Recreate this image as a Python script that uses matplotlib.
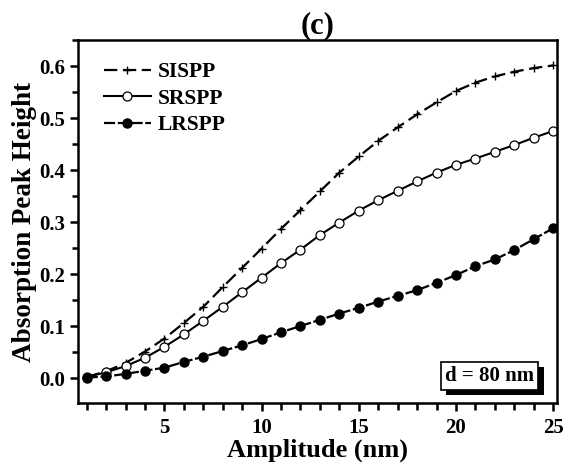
import numpy as np
import matplotlib.pyplot as plt
from matplotlib.ticker import MultipleLocator
import matplotlib.patheffects as pe

plt.rcParams['font.family'] = ['Liberation Serif', 'DejaVu Serif']
plt.rcParams['font.weight'] = 'bold'

# data
amplitude = np.arange(1, 26)
sispp = [0.002, 0.013, 0.029, 0.051, 0.076, 0.106, 0.137, 0.175, 0.212, 0.249,
         0.287, 0.323, 0.359, 0.395, 0.426, 0.456, 0.482, 0.507, 0.530, 0.552,
         0.568, 0.580, 0.589, 0.596, 0.601]
srspp = [0.002, 0.011, 0.023, 0.039, 0.060, 0.084, 0.110, 0.137, 0.165, 0.193,
         0.221, 0.247, 0.275, 0.299, 0.322, 0.342, 0.360, 0.378, 0.395, 0.410,
         0.422, 0.435, 0.448, 0.462, 0.475]
lrspp = [0.001, 0.003, 0.008, 0.014, 0.020, 0.031, 0.041, 0.052, 0.063, 0.075,
         0.088, 0.100, 0.112, 0.124, 0.135, 0.147, 0.158, 0.169, 0.183, 0.198,
         0.215, 0.228, 0.246, 0.267, 0.288]

fig = plt.figure(figsize=(5.64, 4.63), dpi=100)
ax = fig.add_axes([78 / 564, 60 / 463, 479 / 564, 363 / 463])

ax.plot(amplitude, sispp, color='k', ls=(0, (6, 2.5)), lw=1.6,
        marker='+', ms=6, mew=1.0, label='SISPP')
ax.plot(amplitude, srspp, color='k', ls='-', lw=1.5,
        marker='o', ms=6.5, mfc='white', mew=0.9, label='SRSPP')
ax.plot(amplitude, lrspp, color='k', ls=(0, (5, 1.2)), lw=1.6,
        marker='o', ms=6.5, mfc='k', label='LRSPP')

ax.set_xlim(0.55, 25.2)
ax.set_ylim(-0.048, 0.65)
ax.xaxis.set_major_locator(MultipleLocator(5))
ax.xaxis.set_minor_locator(MultipleLocator(1))
ax.yaxis.set_major_locator(MultipleLocator(0.1))
ax.yaxis.set_minor_locator(MultipleLocator(0.05))
ax.yaxis.set_major_formatter(plt.FormatStrFormatter('%.1f'))

for s in ax.spines.values():
    s.set_linewidth(1.8)
ax.tick_params(which='both', direction='out', width=1.8, labelsize=15,
               top=False, right=False)
ax.tick_params(which='major', length=6)
ax.tick_params(which='minor', length=4)
ax.tick_params(axis='x', which='minor', length=5)
ax.tick_params(axis='x', pad=5)
ax.tick_params(axis='y', pad=3)

ax.set_xlabel('Amplitude (nm)', fontsize=19, fontweight='bold', labelpad=0)
ax.set_ylabel('Absorption Peak Height', fontsize=19.5, fontweight='bold', labelpad=2)
ax.set_title('(c)', fontsize=22, fontweight='bold', pad=3)

ax.legend(loc='upper left', frameon=False, fontsize=15.5, handlelength=2.2,
          handletextpad=0.3, labelspacing=0.3, borderaxespad=0.3,
          bbox_to_anchor=(0.022, 0.98))

t = ax.text(0.952, 0.075, 'd = 80 nm', transform=ax.transAxes, ha='right',
            va='center', fontsize=15, fontweight='bold',
            bbox=dict(boxstyle='square,pad=0.2', fc='white', ec='k', lw=1.2))
t.get_bbox_patch().set_path_effects(
    [pe.SimplePatchShadow(offset=(4, -4), shadow_rgbFace='k', alpha=1), pe.Normal()])

fig.savefig('out.png', dpi=100)
